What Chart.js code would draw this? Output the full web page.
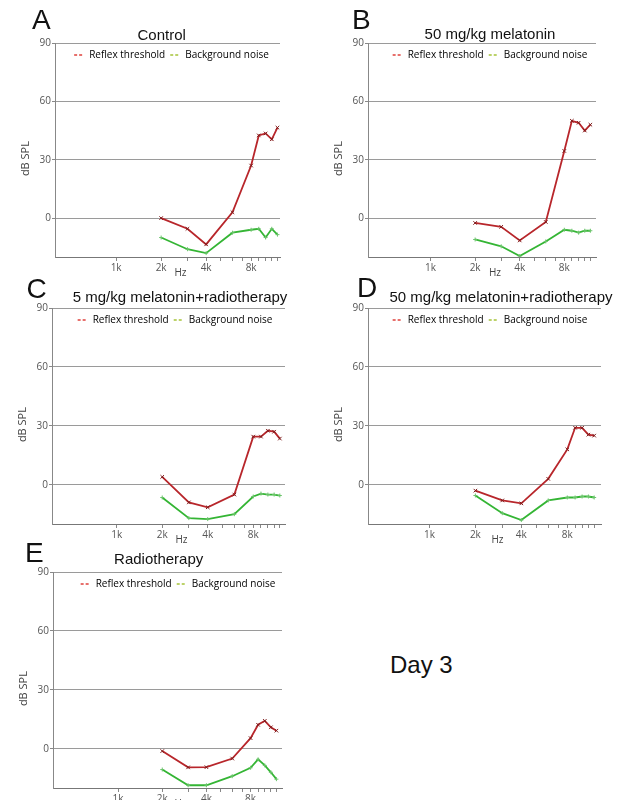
<!DOCTYPE html>
<html>
<head>
<meta charset="utf-8">
<script src="https://cdn.jsdelivr.net/npm/chart.js@4.4.1/dist/chart.umd.min.js"></script>
<style>
  body { margin: 0; background: #fff; }
  #fig { position: relative; width: 622px; height: 800px; overflow: hidden; font-family: "Liberation Sans", Arial, sans-serif; }
  .box { position: absolute; }
  .letter { position: absolute; font-size: 28px; line-height: 28px; color: #111; }
  .ttl { position: absolute; width: 300px; text-align: center; font-size: 15px; line-height: 18px; color: #111; white-space: nowrap; }
  .day { position: absolute; font-size: 24px; line-height: 24px; color: #111; }
</style>
</head>
<body>
<div id="fig"></div>
<script>
// frequencies (Hz) of the measured points
const freqs = [2000, 3000, 4000, 6000, 8000, 9000, 10000, 11000, 12000];
const tickFreqs = [1000, 2000, 3000, 4000, 5000, 6000, 7000, 8000, 9000, 10000, 11000, 12000];
const tickNames = { 1000: '1k', 2000: '2k', 4000: '4k', 8000: '8k' };
const yTicks = [0, 30, 60, 90];
const seriesNames = ['Reflex threshold', 'Background noise'];

// dB SPL
const controlReflex = [0, -5.5, -13.5, 3, 27, 42.5, 43.5, 40.5, 46.5];
const controlNoise = [-10, -16, -18, -7.5, -6, -5.5, -10, -5.5, -8.5];
const mel50Reflex = [-2.5, -4.5, -11.5, -2, 34.5, 50, 49, 45, 48];
const mel50Noise = [-11, -14.5, -19.5, -12, -6, -6.5, -7.5, -6.5, -6.5];
const mel5RtReflex = [4, -9, -11.5, -5, 24.5, 24.5, 27.5, 27, 23.5];
const mel5RtNoise = [-6.5, -17, -17.5, -15, -6, -4.5, -5, -5, -5.5];
const mel50RtReflex = [-3, -8, -9.5, 3, 18, 29, 29, 25.5, 25];
const mel50RtNoise = [-5.5, -14.5, -18, -8, -6.5, -6.5, -6, -6, -6.5];
const rtReflex = [-1.2, -9.5, -9.4, -5, 5.4, 12.2, 14.2, 10.9, 9.2];
const rtNoise = [-10.6, -18.6, -18.6, -14, -9.7, -5.4, -8.5, -12, -15.5];

// plot area in page pixels, log x range, title/letter placement
const panels = [
  { letter: 'A', title: 'Control', reflex: controlReflex, noise: controlNoise,
    L: 55, R: 280, T: 43, B: 257, xMin: 390, xMax: 12480, tx: 161.7, ty: 25.5, lx: 32, ly: 6.4, shift: 4 },
  { letter: 'B', title: '50 mg/kg melatonin', reflex: mel50Reflex, noise: mel50Noise,
    L: 368, R: 596, T: 43, B: 257, xMin: 378, xMax: 13100, tx: 490, ty: 24.5, lx: 352, ly: 6.4, shift: 8 },
  { letter: 'C', title: '5 mg/kg melatonin+radiotherapy', reflex: mel5RtReflex, noise: mel5RtNoise,
    L: 52, R: 285, T: 308, B: 524, xMin: 373, xMax: 12980, tx: 180, ty: 288, lx: 26.5, ly: 274.5, shift: 6.5 },
  { letter: 'D', title: '50 mg/kg melatonin+radiotherapy', reflex: mel50RtReflex, noise: mel50RtNoise,
    L: 368, R: 601, T: 308, B: 524, xMin: 396, xMax: 13300, tx: 501, ty: 288, lx: 357, ly: 273.5, shift: 5.5 },
  { letter: 'E', title: 'Radiotherapy', reflex: rtReflex, noise: rtNoise,
    L: 53, R: 282, T: 572, B: 788, xMin: 360, xMax: 13100, tx: 158.7, ty: 549.8, lx: 25, ly: 538.5, shift: 10.5 }
];

const axisFont = { family: 'Open Sans', size: 10 };

// legend is laid out with no height and then moved inside the plot, under the 90 line
const legendInside = {
  id: 'legendInside',
  beforeLayout(chart) {
    const lg = chart.legend;
    if (lg && !lg._flat) {
      const fit = lg.fit;
      lg.fit = function () { fit.call(this); this.height = 0; };
      lg._flat = true;
    }
  },
  afterLayout(chart, args, opts) {
    const lg = chart.legend, a = chart.chartArea;
    lg.left = a.left + (opts.shift || 0);
    lg.right = a.right + (opts.shift || 0);
    lg.width = lg.right - lg.left;
    lg.top = a.top + 2;
    lg.bottom = lg.top + 24;
    lg.height = 24;
  }
};

const fig = document.getElementById('fig');

panels.forEach(p => {
  const box = document.createElement('div');
  box.className = 'box';
  box.style.left = (p.L - 45) + 'px';
  box.style.top = (p.T - 40) + 'px';
  box.style.width = (p.R - p.L + 60) + 'px';
  box.style.height = (p.B - p.T + 70) + 'px';
  const cv = document.createElement('canvas');
  box.appendChild(cv);
  fig.appendChild(box);

  new Chart(cv, {
    type: 'line',
    data: {
      datasets: [
        {
          label: seriesNames[0],
          data: freqs.map((f, i) => ({ x: f, y: p.reflex[i] })),
          borderColor: '#b8262b',
          borderWidth: 1.8,
          pointStyle: 'crossRot',
          pointRadius: 2.5,
          pointBorderColor: '#7d1b1b',
          pointBorderWidth: 1,
          tension: 0
        },
        {
          label: seriesNames[1],
          data: freqs.map((f, i) => ({ x: f, y: p.noise[i] })),
          borderColor: '#34b534',
          borderWidth: 1.8,
          pointStyle: 'cross',
          pointRadius: 2,
          pointBorderColor: '#6cc46c',
          pointBorderWidth: 1,
          tension: 0
        }
      ]
    },
    options: {
      responsive: true,
      maintainAspectRatio: false,
      animation: false,
      layout: { padding: { left: 5, top: 40, right: 15, bottom: 0 } },
      scales: {
        x: {
          type: 'logarithmic',
          min: p.xMin,
          max: p.xMax,
          afterBuildTicks: s => { s.ticks = tickFreqs.map(v => ({ value: v })); },
          afterFit: s => { s.height = 30; },
          grid: { drawOnChartArea: false, tickLength: 4, tickColor: '#888' },
          border: { color: '#777' },
          ticks: {
            autoSkip: false, maxRotation: 0, color: '#555', padding: 1, font: axisFont,
            callback: v => tickNames[v] || ''
          },
          title: { display: true, text: '          Hz', color: '#444', font: axisFont, padding: { top: 0, bottom: 8 } }
        },
        y: {
          min: -20,
          max: 90,
          afterBuildTicks: s => { s.ticks = yTicks.map(v => ({ value: v })); },
          afterFit: s => { s.width = 40; },
          grid: { color: '#9a9a9a', tickLength: 3, tickColor: '#888' },
          border: { color: '#888' },
          ticks: { color: '#555', padding: 1, font: axisFont },
          title: { display: true, text: 'dB SPL      ', color: '#444', font: { family: 'Open Sans', size: 11 }, padding: { top: 4, bottom: 4 } }
        }
      },
      plugins: {
        title: { display: false },
        tooltip: { enabled: false },
        legendInside: { shift: p.shift },
        legend: {
          position: 'top',
          labels: {
            usePointStyle: true,
            pointStyleWidth: 10,
            boxHeight: 6,
            padding: 5,
            color: '#444',
            font: { family: 'Open Sans', size: 10 },
            generateLabels: () => [
              { text: seriesNames[0], pointStyle: 'line', rotation: 0, strokeStyle: '#e0413c', fillStyle: '#e0413c', lineWidth: 1.3, lineDash: [3, 2], datasetIndex: 0, hidden: false },
              { text: seriesNames[1], pointStyle: 'line', rotation: 0, strokeStyle: '#a6c43a', fillStyle: '#a6c43a', lineWidth: 1.3, lineDash: [3, 2], datasetIndex: 1, hidden: false }
            ]
          }
        }
      }
    },
    plugins: [legendInside]
  });

  const t = document.createElement('div');
  t.className = 'ttl';
  t.textContent = p.title;
  t.style.left = (p.tx - 150) + 'px';
  t.style.top = p.ty + 'px';
  fig.appendChild(t);

  const l = document.createElement('div');
  l.className = 'letter';
  l.textContent = p.letter;
  l.style.left = p.lx + 'px';
  l.style.top = p.ly + 'px';
  fig.appendChild(l);
});

const day = document.createElement('div');
day.className = 'day';
day.textContent = 'Day 3';
day.style.left = '390px';
day.style.top = '652.7px';
fig.appendChild(day);
</script>
</body>
</html>
